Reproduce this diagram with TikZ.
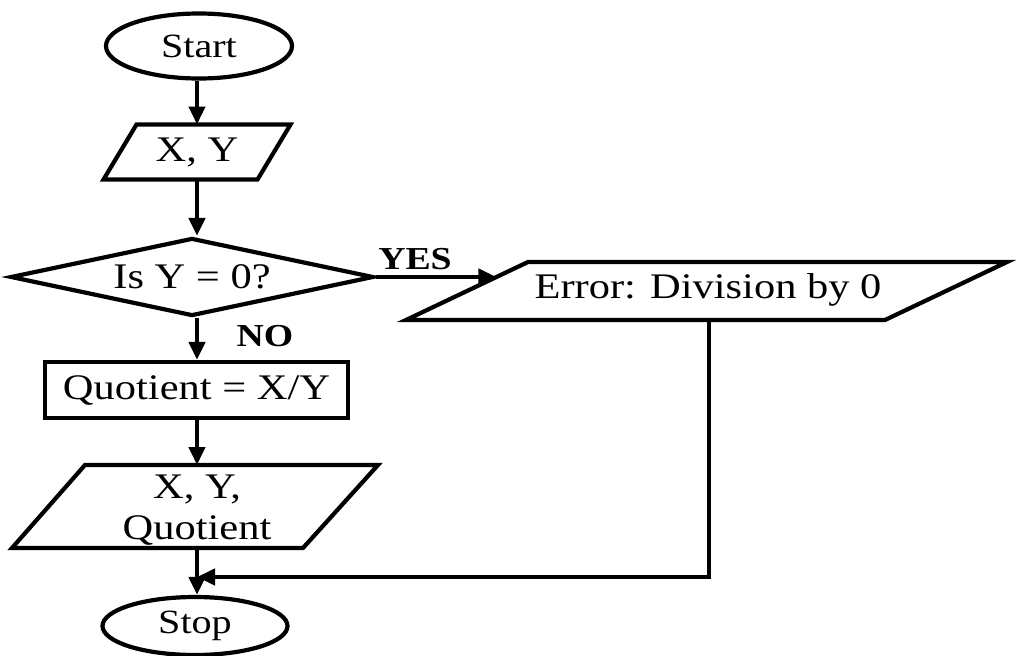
\documentclass[tikz,border=0pt]{standalone}
\usepackage{fontspec}
\setmainfont{Liberation Serif}[FakeStretch=1.18]
\usetikzlibrary{shapes.geometric,arrows.meta,calc}
\begin{document}
\begin{tikzpicture}[x=1pt,y=-1pt,
  base/.style={draw=black, line width=4.2pt, inner sep=0pt, font=\fontsize{36}{41}\selectfont},
  txt/.style={inner sep=0pt, font=\fontsize{36}{41}\selectfont},
  shp/.style={draw=black, line width=4.2pt, line join=miter},
  term/.style={base, ellipse, font=\fontsize{34}{39}\selectfont},
  arr/.style={-{Triangle[length=18pt,width=16pt]}, line width=4.2pt},
  lab/.style={font=\bfseries\fontsize{32}{36}\selectfont, inner sep=0pt}
]
\useasboundingbox (0,0) rectangle (1018,656);
\fill[white] (0,0) rectangle (1018,656);

% terminals, decision, process
\node[term, minimum width=186pt, minimum height=65pt] (start) at (199,46) {Start};
\node[base, diamond, aspect=4.6, minimum width=363pt, minimum height=78pt] (dec) at (192,277) {Is Y = 0?};
\node[base, rectangle, minimum width=303pt, minimum height=56pt] (quot) at (196.5,390) {Quotient = X/Y};
\node[term, minimum width=185pt, minimum height=58pt] (stop) at (195,626) {Stop};

% input / output parallelograms
\node[txt] (xy) at (197,152) {X, Y};
\coordinate (xy-t) at (197,124.5);
\coordinate (xy-b) at (197,179.5);
\draw[shp] (103.5,179.5) -- (257.5,179.5) -- (290.5,124.5) -- (136.5,124.5) -- cycle;

\node[txt, align=center] (out) at (197,510) {X, Y,\\Quotient};
\coordinate (out-t) at (197,465);
\coordinate (out-b) at (197,548);
\draw[shp] (12,548) -- (303,548) -- (378,465) -- (85,465) -- cycle;

\node[txt] (err) at (708,290) {Error: Division by 0};
\coordinate (err-b) at (709,320);
\coordinate (err-bl) at (406,320);
\coordinate (err-tl) at (528,262);
\draw[shp] (err-bl) -- (885,320) -- (1007,262) -- (err-tl) -- cycle;

\node[lab] (yes) at (415,259) {YES};
\node[lab] (no) at (265,336) {NO};

\coordinate (join) at (197,577);
\coordinate (hit) at ($(err-bl)!0.741!(err-tl)$);

\draw[arr] (start.south -| join) -- (xy-t);
\draw[arr] (xy-b) -- (dec.north -| join);
\draw[arr] (dec.south -| join) -- (quot.north -| join);
\draw[arr] (quot.south -| join) -- (out-t);
\draw[arr] (out-b) -- (stop.north -| join);
\draw[arr] (dec.east) -- (dec.east -| hit);
\draw[arr] (err-b) |- (join);
\end{tikzpicture}
\end{document}
